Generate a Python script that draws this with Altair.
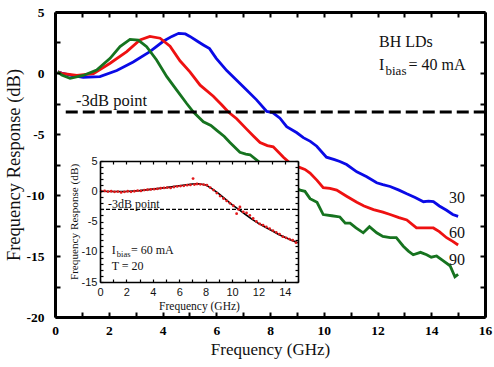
import altair as alt
import pandas as pd

# ---------------- data ----------------
f30 = [0.1, 0.25, 0.6, 1.05, 1.67, 2.3, 2.91, 3.53, 4.03, 4.35, 4.6, 4.85, 5.02, 5.3, 5.52, 5.75,
       6.0, 6.39, 6.76, 7.13, 7.5, 7.88, 8.1, 8.37, 8.62, 9.0, 9.24, 9.5, 9.74, 10.1, 10.4, 10.6,
       10.85, 11.23, 11.6, 11.97, 12.2, 12.47, 12.8, 13.09, 13.4, 13.71, 13.9, 14.08, 14.3, 14.57,
       14.8, 15.0]
db30 = [0.1, 0.0, -0.2, -0.35, -0.3, 0.2, 0.9, 1.75, 2.6, 3.0, 3.25, 3.2, 3.0, 2.6, 2.3, 2.0,
        1.2, 0.2, -0.6, -1.4, -2.2, -3.15, -3.25, -3.7, -4.4, -4.9, -5.3, -5.6, -6.0, -6.9, -7.1, -7.25,
        -7.5, -8.1, -8.5, -9.0, -9.15, -9.3, -9.6, -9.9, -10.2, -10.55, -10.5, -10.55, -10.9, -11.25,
        -11.6, -11.75]

f60 = [0.1, 0.25, 0.81, 1.43, 2.05, 2.67, 3.16, 3.53, 3.91, 4.28, 4.65, 5.02, 5.4, 5.89, 6.2,
       6.45, 6.76, 7.13, 7.4, 7.63, 7.9, 8.12, 8.5, 8.7, 9.05, 9.3, 9.49, 9.75, 9.98, 10.23, 10.48,
       10.85, 11.23, 11.5, 11.85, 12.2, 12.47, 12.8, 13.09, 13.45, 13.75, 14.08, 14.3, 14.57, 14.8, 15.0]
db60 = [0.1, -0.03, -0.2, -0.05, 0.8, 1.75, 2.7, 3.0, 2.85, 2.2, 1.0, 0.1, -1.0, -1.9, -2.6,
        -3.2, -3.75, -4.6, -5.2, -5.7, -5.95, -6.05, -6.9, -7.3, -7.7, -7.9, -8.2, -8.8, -9.4, -9.45, -9.6,
        -10.1, -10.6, -10.9, -11.2, -11.4, -11.6, -11.85, -12.05, -12.7, -12.7, -12.7, -13.0, -13.5, -13.8, -14.1]

f90 = [0.1, 0.25, 0.56, 1.05, 1.55, 2.05, 2.42, 2.79, 3.1, 3.41, 3.78, 4.16, 4.53, 4.9, 5.15,
       5.52, 5.8, 6.02, 6.3, 6.51, 6.88, 7.1, 7.26, 7.6, 8.0, 8.5, 9.12, 9.3, 9.49, 9.75, 9.98, 10.3,
       10.6, 10.8, 10.98, 11.2, 11.47, 11.7, 11.97, 12.2, 12.47, 12.7, 12.96, 13.15, 13.33, 13.6,
       13.83, 14.0, 14.2, 14.45, 14.7, 14.88, 15.0]
db90 = [0.1, -0.16, -0.43, -0.2, 0.25, 1.2, 2.16, 2.76, 2.7, 2.16, 1.07, -0.3, -1.4, -2.5, -3.2,
        -4.0, -4.3, -4.7, -5.2, -5.7, -6.5, -6.65, -6.7, -7.3, -8.0, -8.8, -9.6, -9.7, -10.3, -10.6, -11.6, -11.7,
        -11.8, -12.3, -12.3, -12.7, -13.1, -12.6, -13.1, -13.4, -13.5, -13.5, -14.2, -14.6, -14.9, -14.7,
        -14.9, -15.1, -15.0, -15.4, -15.8, -16.7, -16.5]

series_names = ["30", "60", "90"]
series_colors = ["#0a0ae6", "#ee1111", "#16731f"]
threshold_main = -3.2

# inset: measured points and fitted curve
fin_dots = [0.1, 0.35, 0.6, 0.85, 1.1, 1.35, 1.6, 1.85, 2.1, 2.35, 2.6, 2.85, 3.1, 3.35, 3.6, 3.85,
            4.1, 4.35, 4.6, 4.85, 5.1, 5.35, 5.6, 5.85, 6.1, 6.35, 6.6, 6.85, 7.05, 7.15, 7.35, 7.6,
            7.85, 8.1, 8.35, 8.6, 8.85, 9.1, 9.35, 9.6, 9.85, 10.1, 10.35, 10.5, 10.6, 10.85, 11.1,
            11.35, 11.6, 11.85, 12.1, 12.35, 12.6, 12.85, 13.1, 13.35, 13.6, 13.85, 14.1, 14.35, 14.6, 14.85]
dbin_dots = [0.0, 0.05, -0.05, 0.0, -0.1, -0.05, -0.2, -0.1, 0.0, -0.1, 0.0, 0.1, 0.05, 0.2, 0.25, 0.3,
             0.35, 0.4, 0.5, 0.55, 0.6, 0.55, 0.7, 0.8, 0.85, 0.9, 1.0, 1.05, 2.1, 1.1, 1.2, 1.15,
             1.1, 1.0, 0.6, 0.2, -0.3, -0.8, -1.2, -1.6, -2.0, -2.4, -3.7, -3.0, -2.6, -3.4, -3.6,
             -4.0, -4.5, -5.0, -5.4, -5.6, -5.9, -6.2, -6.5, -6.8, -7.1, -7.5, -7.7, -7.9, -8.1, -8.5]
fin_fit = [0, 1, 2, 3, 4, 5, 6, 7, 7.5, 8, 8.5, 9, 9.5, 10, 10.5, 11, 11.5, 12, 12.5, 13, 13.5, 14, 14.5, 15]
dbin_fit = [0.0, -0.05, -0.05, 0.1, 0.35, 0.6, 0.9, 1.2, 1.25, 1.05, 0.4, -0.4, -1.3, -2.2, -3.0, -3.8,
            -4.6, -5.3, -5.9, -6.5, -7.1, -7.6, -8.1, -8.5]
threshold_inset = -3.0

main_x_ticks = list(range(0, 17))
main_y_ticks = [-20, -17.5, -15, -12.5, -10, -7.5, -5, -2.5, 0, 2.5, 5]
inset_x_ticks = list(range(0, 16))
inset_y_ticks = list(range(-15, 6))

# ---------------- layout ----------------
W, H = 430, 305
SERIF = "Liberation Serif"
SANS = "Liberation Sans"
INK = "#111111"

# inset box position inside the plot area (pixels)
IX0, IX1, IY0, IY1 = 45, 243, 149, 270

mx = alt.Scale(domain=[0, 16], nice=False, zero=False)
my = alt.Scale(domain=[-20, 5], nice=False, zero=False)
ix = alt.Scale(domain=[0, 15], nice=False, zero=False, range=[IX0, IX1])
iy = alt.Scale(domain=[-15, 5], nice=False, zero=False, range=[IY1, IY0])

curves = pd.concat([
    pd.DataFrame({"f": f30, "db": db30, "s": "30"}),
    pd.DataFrame({"f": f60, "db": db60, "s": "60"}),
    pd.DataFrame({"f": f90, "db": db90, "s": "90"}),
])

common_lab = dict(grid=False, zindex=1, labelFlush=False, labelOverlap=False)

x_main_axis = alt.Axis(orient="bottom", values=main_x_ticks,
                       labelExpr="datum.value % 2 == 0 ? '' + datum.value : ''",
                       ticks=False, domain=True, domainColor="black", domainWidth=3,
                       labelFont=SERIF, labelFontSize=13.5, labelFontWeight="bold", labelColor="black",
                       labelPadding=6, title="Frequency (GHz)", titleFont=SERIF, titleFontSize=17,
                       titleFontWeight="normal", titleColor=INK, titlePadding=5, **common_lab)
y_main_axis = alt.Axis(orient="left", values=main_y_ticks,
                       labelExpr="datum.value % 5 == 0 ? '' + datum.value : ''",
                       ticks=False, domain=True, domainColor="black", domainWidth=3,
                       labelFont=SERIF, labelFontSize=13.5, labelFontWeight="bold", labelColor="black",
                       labelPadding=11, title="Frequency Response (dB)", titleFont=SERIF, titleFontSize=18.5,
                       titleFontWeight="normal", titleColor=INK, titlePadding=3, **common_lab)

MX = dict(scale=mx, axis=x_main_axis)
MY = dict(scale=my, axis=y_main_axis)

lines = alt.Chart(curves).mark_line(strokeWidth=2.8).encode(
    x=alt.X("f:Q", **MX),
    y=alt.Y("db:Q", **MY),
    color=alt.Color("s:N", scale=alt.Scale(domain=series_names, range=series_colors), legend=None),
    detail="s:N",
)

rule_main = alt.Chart(pd.DataFrame({"f": [0.4], "f2": [16], "db": [threshold_main]})).mark_rule(
    color="black", strokeWidth=3, strokeDash=[12, 5]
).encode(x=alt.X("f:Q", **MX), x2="f2:Q", y=alt.Y("db:Q", **MY))


def txt(t, x, y, size, font=SERIF, align="left", baseline="alphabetic"):
    return alt.Chart(pd.DataFrame({"t": [t]})).mark_text(
        font=font, fontSize=size, color=INK, align=align, baseline=baseline
    ).encode(text="t:N", x=alt.value(x), y=alt.value(y))


main_texts = [
    txt("-3dB point", 21, 94, 16.5),
    txt("BH LDs", 324, 34.7, 16),
    txt("I", 324, 58, 16),
    txt("bias", 330.5, 62.5, 13),
    txt("= 40 mA", 353.5, 58, 16),
    txt("30", 394, 191, 16),
    txt("60", 394, 226, 16),
    txt("90", 394, 253, 16),
]

main_layer = alt.layer(lines, rule_main, *main_texts)

tick_common = dict(labels=False, title=None, grid=False, zindex=1, tickColor="black",
                   domainColor="black")
pt = pd.DataFrame({"x": [0], "y": [0]})

main_ticks_a = alt.Chart(pt).mark_point(opacity=0).encode(
    x=alt.X("x:Q", scale=mx, axis=alt.Axis(orient="top", offset=-H, values=main_x_ticks, domain=False,
                                           ticks=True, tickSize=5, tickWidth=2, **tick_common)),
    y=alt.Y("y:Q", scale=my, axis=alt.Axis(orient="right", offset=-W, values=main_y_ticks, domain=False,
                                           ticks=True, tickSize=5, tickWidth=2, **tick_common)),
)
main_ticks_b = alt.Chart(pt).mark_point(opacity=0).encode(
    x=alt.X("x:Q", scale=mx, axis=alt.Axis(orient="bottom", offset=-H, values=main_x_ticks, domain=True,
                                           domainWidth=3, ticks=True, tickSize=5, tickWidth=2, **tick_common)),
    y=alt.Y("y:Q", scale=my, axis=alt.Axis(orient="left", offset=-W, values=main_y_ticks, domain=True,
                                           domainWidth=3, ticks=True, tickSize=5, tickWidth=2, **tick_common)),
)

# ---------------- inset ----------------
x_in_axis = alt.Axis(orient="bottom", offset=IY1 - H, values=inset_x_ticks,
                     labelExpr="datum.value % 2 == 0 ? '' + datum.value : ''",
                     ticks=False, domain=True, domainColor="black", domainWidth=1.6,
                     labelFont=SANS, labelFontSize=11, labelColor=INK, labelPadding=4,
                     title="Frequency (GHz)", titleFont=SERIF, titleFontSize=11.5, titleFontWeight="normal",
                     titleColor=INK, titlePadding=3, **common_lab)
y_in_axis = alt.Axis(orient="left", offset=-IX0, values=inset_y_ticks,
                     labelExpr="datum.value % 5 == 0 ? '' + datum.value : ''",
                     ticks=False, domain=True, domainColor="black", domainWidth=1.6,
                     labelFont=SANS, labelFontSize=11, labelColor=INK, labelPadding=3,
                     title="Frequency Response (dB)", titleFont=SERIF, titleFontSize=11.2,
                     titleFontWeight="normal", titleColor=INK, titlePadding=2, **common_lab)

IXE = dict(scale=ix, axis=x_in_axis)
IYE = dict(scale=iy, axis=y_in_axis)

inset_bg = alt.Chart(pd.DataFrame({"f": [0], "f2": [15], "db": [-15], "db2": [5]})).mark_rect(
    fill="white", strokeWidth=0
).encode(x=alt.X("f:Q", **IXE), x2="f2:Q", y=alt.Y("db:Q", **IYE), y2="db2:Q")

rule_in = alt.Chart(pd.DataFrame({"f": [0], "f2": [15], "db": [threshold_inset]})).mark_rule(
    color="black", strokeWidth=1.3, strokeDash=[4, 2]
).encode(x=alt.X("f:Q", **IXE), x2="f2:Q", y=alt.Y("db:Q", **IYE))

fit_line = alt.Chart(pd.DataFrame({"f": fin_fit, "db": dbin_fit})).mark_line(
    color="black", strokeWidth=1.6
).encode(x=alt.X("f:Q", **IXE), y=alt.Y("db:Q", **IYE))

dots = alt.Chart(pd.DataFrame({"f": fin_dots, "db": dbin_dots})).mark_circle(
    color="#e31a1c", size=8, opacity=1
).encode(x=alt.X("f:Q", **IXE), y=alt.Y("db:Q", **IYE))

inset_texts = [
    txt("-3dB point", 53, 196, 12),
    txt("I", 56.7, 242, 12),
    txt("bias", 61.8, 244.5, 8.5),
    txt("= 60 mA", 76, 242, 12),
    txt("T = 20", 56.7, 257.5, 12),
]

inset_layer = alt.layer(inset_bg, rule_in, fit_line, dots, *inset_texts)

inset_ticks_a = alt.Chart(pt).mark_point(opacity=0).encode(
    x=alt.X("x:Q", scale=ix, axis=alt.Axis(orient="top", offset=-IY1, values=inset_x_ticks, domain=False,
                                           ticks=True, tickSize=3, tickWidth=1.2, **tick_common)),
    y=alt.Y("y:Q", scale=iy, axis=alt.Axis(orient="right", offset=IX0 - W, values=inset_y_ticks, domain=False,
                                           ticks=True, tickSize=3, tickWidth=1.2, **tick_common)),
)
inset_ticks_b = alt.Chart(pt).mark_point(opacity=0).encode(
    x=alt.X("x:Q", scale=ix, axis=alt.Axis(orient="bottom", offset=IY0 - H, values=inset_x_ticks, domain=True,
                                           domainWidth=1.6, ticks=True, tickSize=3, tickWidth=1.2, **tick_common)),
    y=alt.Y("y:Q", scale=iy, axis=alt.Axis(orient="left", offset=-IX1, values=inset_y_ticks, domain=True,
                                           domainWidth=1.6, ticks=True, tickSize=3, tickWidth=1.2, **tick_common)),
)

chart = alt.layer(
    main_layer, main_ticks_a, main_ticks_b, inset_layer, inset_ticks_a, inset_ticks_b
).resolve_scale(x="independent", y="independent").properties(
    width=W, height=H,
    autosize=alt.AutoSizeParams(type="none"),
    padding={"left": 55, "top": 12, "right": 9, "bottom": 50},
    background="white",
).configure_view(stroke=None)

chart.save("out.html", embed_options={"renderer": "svg", "actions": False})
